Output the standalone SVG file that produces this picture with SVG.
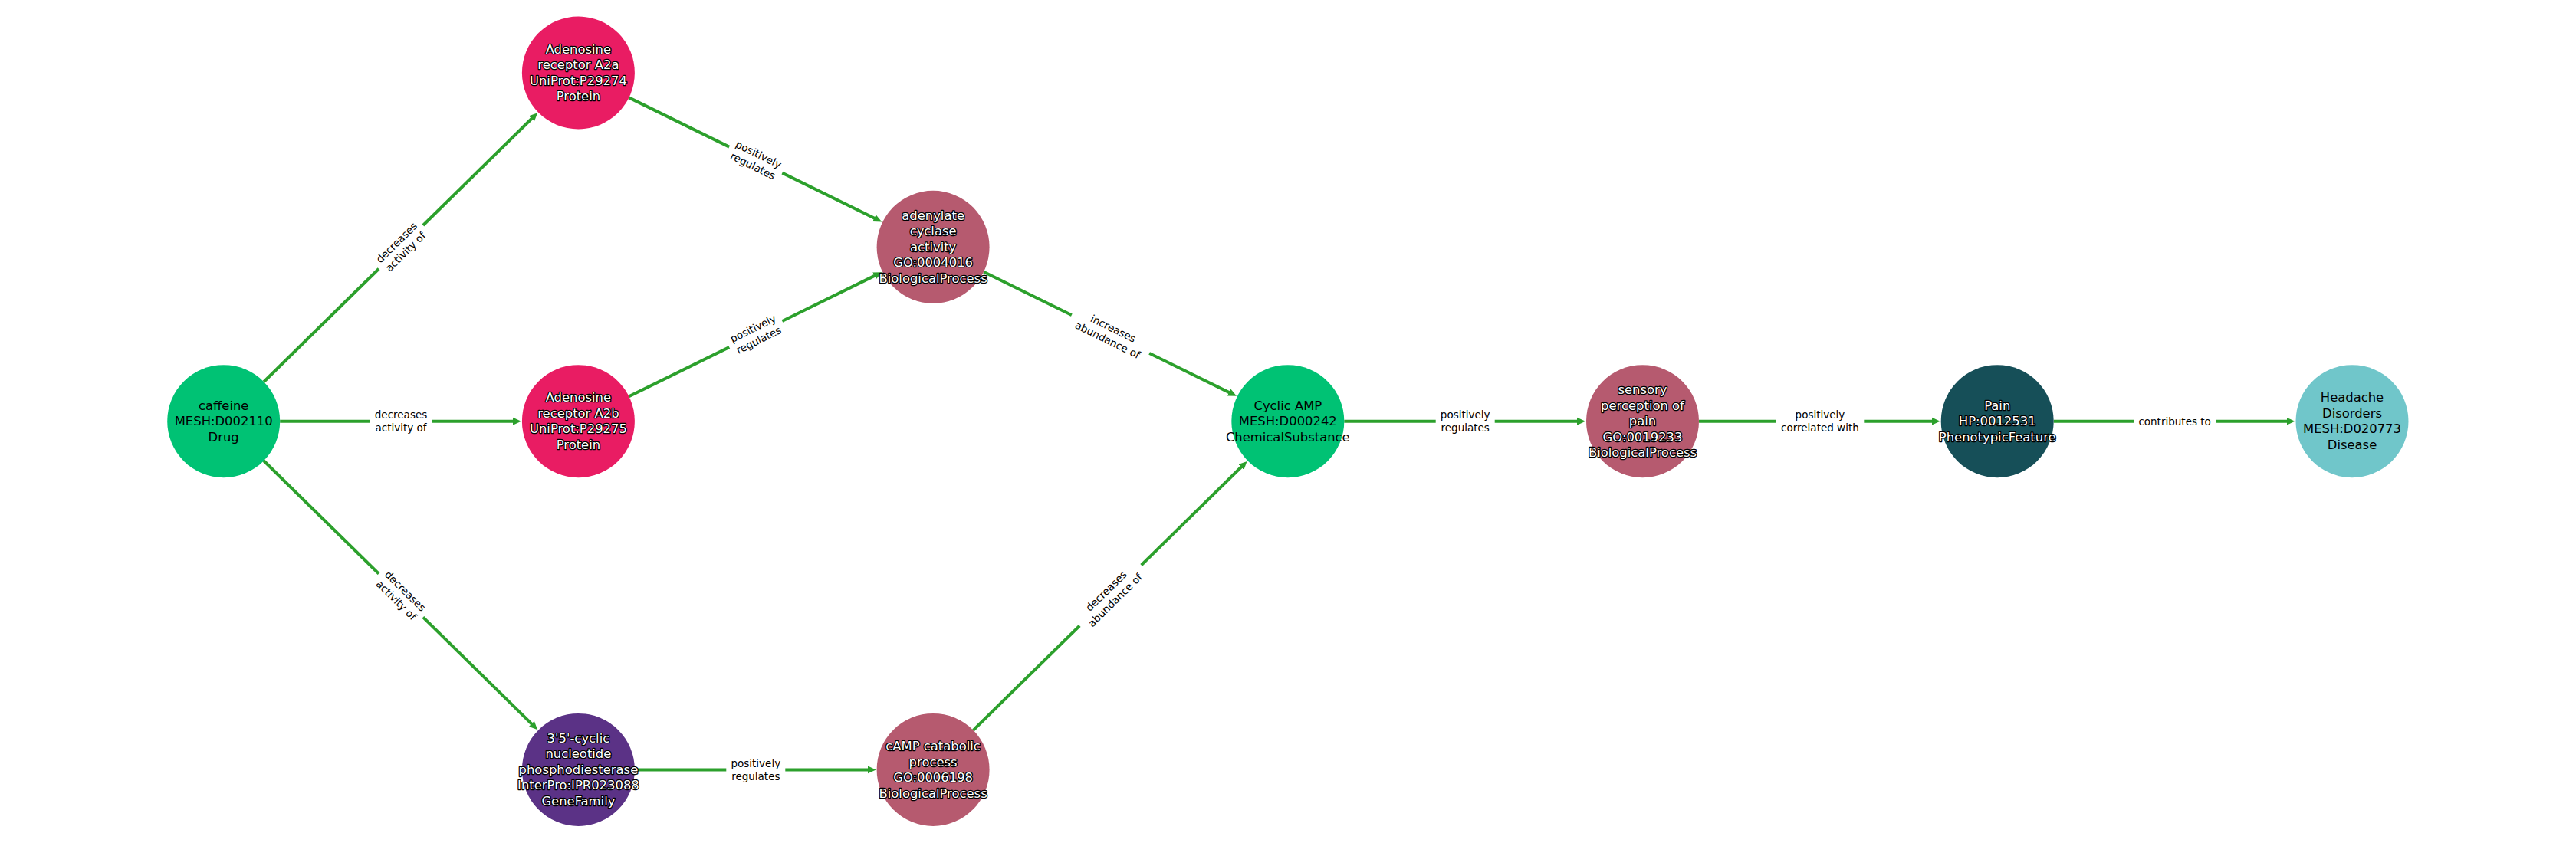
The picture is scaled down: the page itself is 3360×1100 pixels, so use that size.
<svg xmlns="http://www.w3.org/2000/svg" width="3360" height="1100" viewBox="0 0 3360 1100">
<style>
.e{stroke:#2ca02c;stroke-width:4;fill:none;marker-end:url(#ah)}
.lb rect{fill:#fff}
.lb text{font-family:"DejaVu Sans",sans-serif;font-size:13.5px;fill:#000;text-anchor:middle;dominant-baseline:central}
.n text{font-family:"DejaVu Sans",sans-serif;font-size:16.4px;text-anchor:middle;dominant-baseline:central}
.lt{fill:#fff;stroke:#000;stroke-width:2.6px;paint-order:stroke;stroke-linejoin:round}
.dt{fill:#000}
</style>
<defs>
<marker id="ah" markerUnits="userSpaceOnUse" markerWidth="12" markerHeight="11" refX="2" refY="5" orient="auto" viewBox="0 0 12 10">
<path d="M0,0 L11,5 L0,10 z" fill="#2ca02c"/>
</marker>
</defs>
<rect width="3360" height="1100" fill="#fff"/>
<g id="edges">
<line class="e" x1="344.1" y1="498.2" x2="694.8" y2="153.5"/>
<line class="e" x1="365.2" y1="549.7" x2="670.9" y2="549.7"/>
<line class="e" x1="344.1" y1="601.2" x2="694.8" y2="945.9"/>
<line class="e" x1="820.4" y1="127.4" x2="1142.2" y2="285.5"/>
<line class="e" x1="820.4" y1="517.3" x2="1142.2" y2="359.1"/>
<line class="e" x1="827.9" y1="1004.4" x2="1133.6" y2="1004.4"/>
<line class="e" x1="1283.1" y1="354.7" x2="1604.9" y2="512.9"/>
<line class="e" x1="1269.5" y1="952.9" x2="1620.2" y2="608.2"/>
<line class="e" x1="1753.3" y1="549.7" x2="2059" y2="549.7"/>
<line class="e" x1="2216" y1="549.7" x2="2521.7" y2="549.7"/>
<line class="e" x1="2678.7" y1="549.7" x2="2984.5" y2="549.7"/>
<g class="lb" transform="translate(523,322.3) rotate(-44.5)"><rect x="-40.5" y="-21" width="81" height="42"/><text y="-8.35">decreases</text><text y="8.35">activity of</text></g>
<g class="lb" transform="translate(523,549.7)"><rect x="-40.5" y="-21" width="81" height="42"/><text y="-8.35">decreases</text><text y="8.35">activity of</text></g>
<g class="lb" transform="translate(523,777) rotate(44.5)"><rect x="-40.5" y="-21" width="81" height="42"/><text y="-8.35">decreases</text><text y="8.35">activity of</text></g>
<g class="lb" transform="translate(985.8,208.7) rotate(26.2)"><rect x="-38.5" y="-21" width="77" height="42"/><text y="-8.35">positively</text><text y="8.35">regulates</text></g>
<g class="lb" transform="translate(985.8,436) rotate(-26.2)"><rect x="-38.5" y="-21" width="77" height="42"/><text y="-8.35">positively</text><text y="8.35">regulates</text></g>
<g class="lb" transform="translate(985.8,1004.4)"><rect x="-38.5" y="-21" width="77" height="42"/><text y="-8.35">positively</text><text y="8.35">regulates</text></g>
<g class="lb" transform="translate(1448.5,436) rotate(26.2)"><rect x="-56.5" y="-21" width="113" height="42"/><text y="-8.35">increases</text><text y="8.35">abundance of</text></g>
<g class="lb" transform="translate(1448.5,777) rotate(-44.5)"><rect x="-56.5" y="-21" width="113" height="42"/><text y="-8.35">decreases</text><text y="8.35">abundance of</text></g>
<g class="lb" transform="translate(1911.2,549.7)"><rect x="-38.5" y="-21" width="77" height="42"/><text y="-8.35">positively</text><text y="8.35">regulates</text></g>
<g class="lb" transform="translate(2373.9,549.7)"><rect x="-57.4" y="-21" width="114.8" height="42"/><text y="-8.35">positively</text><text y="8.35">correlated with</text></g>
<g class="lb" transform="translate(2836.6,549.7)"><rect x="-53.5" y="-12" width="107" height="24"/><text y="0">contributes to</text></g>
</g>
<g id="caffeine" class="n" transform="translate(291.7,549.7)"><circle r="73.5" fill="#00c274"/><text class="dt" y="-20.6">caffeine</text><text class="dt" y="0">MESH:D002110</text><text class="dt" y="20.6">Drug</text></g>
<g id="a2a" class="n" transform="translate(754.4,95)"><circle r="73.5" fill="#e91c63"/><text class="lt" y="-30.9">Adenosine</text><text class="lt" y="-10.3">receptor A2a</text><text class="lt" y="10.3">UniProt:P29274</text><text class="lt" y="30.9">Protein</text></g>
<g id="a2b" class="n" transform="translate(754.4,549.7)"><circle r="73.5" fill="#e91c63"/><text class="lt" y="-30.9">Adenosine</text><text class="lt" y="-10.3">receptor A2b</text><text class="lt" y="10.3">UniProt:P29275</text><text class="lt" y="30.9">Protein</text></g>
<g id="pde" class="n" transform="translate(754.4,1004.4)"><circle r="73.5" fill="#5b3286"/><text class="lt" y="-41.2">3'5'-cyclic</text><text class="lt" y="-20.6">nucleotide</text><text class="lt" y="0">phosphodiesterase</text><text class="lt" y="20.6">InterPro:IPR023088</text><text class="lt" y="41.2">GeneFamily</text></g>
<g id="adenylate" class="n" transform="translate(1217.1,322.3)"><circle r="73.5" fill="#b65a6f"/><text class="lt" y="-41.2">adenylate</text><text class="lt" y="-20.6">cyclase</text><text class="lt" y="0">activity</text><text class="lt" y="20.6">GO:0004016</text><text class="lt" y="41.2">BiologicalProcess</text></g>
<g id="camp_catabolic" class="n" transform="translate(1217.1,1004.4)"><circle r="73.5" fill="#b65a6f"/><text class="lt" y="-30.9">cAMP catabolic</text><text class="lt" y="-10.3">process</text><text class="lt" y="10.3">GO:0006198</text><text class="lt" y="30.9">BiologicalProcess</text></g>
<g id="cyclic_amp" class="n" transform="translate(1679.8,549.7)"><circle r="73.5" fill="#00c274"/><text class="dt" y="-20.6">Cyclic AMP</text><text class="dt" y="0">MESH:D000242</text><text class="dt" y="20.6">ChemicalSubstance</text></g>
<g id="sensory" class="n" transform="translate(2142.5,549.7)"><circle r="73.5" fill="#b65a6f"/><text class="lt" y="-41.2">sensory</text><text class="lt" y="-20.6">perception of</text><text class="lt" y="0">pain</text><text class="lt" y="20.6">GO:0019233</text><text class="lt" y="41.2">BiologicalProcess</text></g>
<g id="pain" class="n" transform="translate(2605.2,549.7)"><circle r="73.5" fill="#164f58"/><text class="lt" y="-20.6">Pain</text><text class="lt" y="0">HP:0012531</text><text class="lt" y="20.6">PhenotypicFeature</text></g>
<g id="headache" class="n" transform="translate(3068,549.7)"><circle r="73.5" fill="#70c6ca"/><text class="dt" y="-30.9">Headache</text><text class="dt" y="-10.3">Disorders</text><text class="dt" y="10.3">MESH:D020773</text><text class="dt" y="30.9">Disease</text></g>
</svg>
